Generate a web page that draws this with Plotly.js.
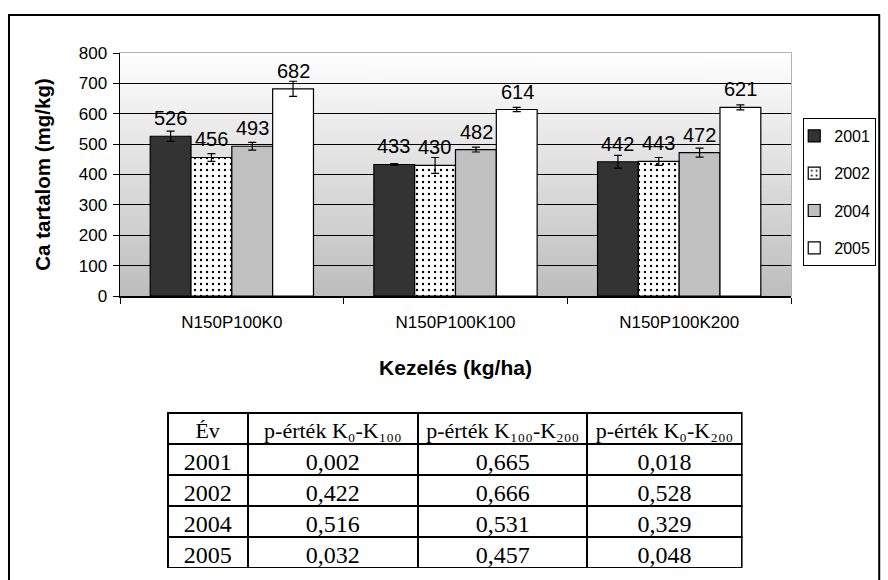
<!DOCTYPE html>
<html>
<head>
<meta charset="utf-8">
<script src="https://cdn.plot.ly/plotly-3.0.1.min.js"></script>
<style>html,body{margin:0;padding:0;background:#fff;}#chart{width:888px;height:580px;}</style>
</head>
<body>
<div id="chart"></div>
<script>
// ---- data ----
const categories = ['N150P100K0', 'N150P100K100', 'N150P100K200'];
const years = ['2001', '2002', '2004', '2005'];
const legendNames = ['2001', '2\u0307002', '2\u0307004', '2\u0307005'];
const v2001 = [526, 433, 442];
const v2002 = [456, 430, 443];
const v2004 = [493, 482, 472];
const v2005 = [682, 614, 621];
const e2001 = [17, 3, 21];
const e2002 = [13, 26, 13];
const e2004 = [13, 8, 15];
const e2005 = [25, 7, 8];
const yTicks = [0, 100, 200, 300, 400, 500, 600, 700, 800];

const NB = '\u00a0';
const tableHeader = ['Év', 'p-érték' + NB + 'K₀-K₁₀₀', 'p-érték' + NB + 'K₁₀₀-K₂₀₀', 'p-érték' + NB + 'K₀-K₂₀₀'];
const tableYears = ['2001', '2002', '2004', '2005'];
const pK0K100 = ['0,002', '0,422', '0,516', '0,032'];
const pK100K200 = ['0,665', '0,666', '0,531', '0,457'];
const pK0K200 = ['0,018', '0,528', '0,329', '0,048'];

// ---- layout constants ----
const W = 888, H = 580;
const M = {l: 120, r: 91, t: 53, b: 12};
const plotW = W - M.l - M.r, plotH = H - M.t - M.b;
const px2x = p => (p - M.l) / plotW;
const px2y = p => (H - M.b - p) / plotH;
const barBottomPx = 296;
const bargap = 0.27;

const sans = 'Arial, "Liberation Sans", sans-serif';
const serif = '"Times New Roman", "Liberation Serif", serif';

const values = [v2001, v2002, v2004, v2005];
const errs = [e2001, e2002, e2004, e2005];
const styles = [
  {color: '#333333'},
  {color: '#ffffff', pattern: {shape: '.', fgcolor: '#000000', bgcolor: '#ffffff', size: 6, solidity: 0.12}},
  {color: '#c0c0c0'},
  {color: '#ffffff'}
];

const traces = years.map((y, i) => ({
  type: 'bar',
  name: legendNames[i],
  legendgroup: 'g' + i,
  x: categories,
  y: values[i],
  marker: Object.assign({line: {color: '#000000', width: 1.2}}, styles[i]),
  error_y: {type: 'data', array: errs[i], visible: true, color: '#000000', thickness: 1.2, width: 4},
  hoverinfo: 'skip'
}));

traces.push({
  type: 'table',
  domain: {x: [px2x(168), px2x(748)], y: [0, px2y(413)]},
  columnwidth: [80, 170, 169, 154],
  header: {
    values: tableHeader,
    align: 'center',
    height: 31,
    line: {color: '#000000', width: 2},
    fill: {color: '#ffffff'},
    font: {family: serif, size: 22, color: '#000000'}
  },
  cells: {
    values: [tableYears, pK0K100, pK100K200, pK0K200],
    align: 'center',
    height: 31,
    line: {color: '#000000', width: 2},
    fill: {color: '#ffffff'},
    font: {family: serif, size: 24, color: '#000000'}
  }
});

// data labels via annotations anchored at bar values
const catW = plotW / categories.length;
const barW = catW * (1 - bargap) / years.length;
const annotations = [];
years.forEach((yr, i) => {
  categories.forEach((c, j) => {
    annotations.push({
      x: c, y: values[i][j], xref: 'x', yref: 'y',
      text: String(values[i][j]),
      showarrow: false, xanchor: 'center', yanchor: 'bottom',
      xshift: (i - 1.5) * barW, yshift: 5,
      font: {family: sans, size: 20, color: '#000000'}
    });
  });
});

// background gradient for plot area
const cv = document.createElement('canvas');
cv.width = 4; cv.height = 256;
const ctx = cv.getContext('2d');
const gr = ctx.createLinearGradient(0, 0, 0, 256);
gr.addColorStop(0, '#ffffff');
gr.addColorStop(1, '#bdbdbd');
ctx.fillStyle = gr; ctx.fillRect(0, 0, 4, 256);
const gradURL = cv.toDataURL('image/png');

const layout = {
  width: W, height: H,
  margin: M,
  paper_bgcolor: '#ffffff',
  plot_bgcolor: 'rgba(0,0,0,0)',
  barmode: 'group',
  bargap: bargap,
  bargroupgap: 0,
  font: {family: sans, color: '#000000'},
  showlegend: true,
  legend: {
    x: px2x(883), xanchor: 'right', y: px2y(118), yanchor: 'top',
    bgcolor: '#ffffff', bordercolor: '#000000', borderwidth: 1,
    font: {family: sans, size: 16, color: '#000000'},
    traceorder: 'grouped', tracegroupgap: 13.5, indentation: -10,
    itemclick: false, itemdoubleclick: false
  },
  xaxis: {
    type: 'category',
    showline: true, linecolor: '#000000', linewidth: 1.5,
    ticks: 'outside', tickson: 'boundaries', ticklen: 6, tickcolor: '#000000', tickwidth: 1,
    ticklabelstandoff: 10,
    tickfont: {family: sans, size: 17, color: '#000000'},
    showgrid: false, zeroline: false,
    title: {text: 'Kezelés (kg/ha)', standoff: 29, font: {family: sans, size: 21, weight: 'bold', color: '#000000'}}
  },
  yaxis: {
    domain: [px2y(barBottomPx), 1],
    range: [0, 800],
    tickvals: yTicks,
    showline: true, linecolor: '#000000', linewidth: 1.5,
    ticks: 'outside', ticklen: 6, tickcolor: '#000000', tickwidth: 1,
    ticklabelstandoff: 2,
    tickfont: {family: sans, size: 17, color: '#000000'},
    showgrid: true, gridcolor: '#000000', gridwidth: 1,
    zeroline: false,
    title: {text: 'Ca tartalom (mg/kg)', standoff: 22, font: {family: sans, size: 20.5, weight: 'bold', color: '#000000'}}
  },
  images: [{
    source: gradURL, xref: 'x domain', yref: 'y domain',
    x: 0, y: 1, sizex: 1, sizey: 1, xanchor: 'left', yanchor: 'top',
    sizing: 'stretch', layer: 'below'
  }],
  shapes: [
    {type: 'rect', xref: 'x domain', yref: 'y domain', x0: 0, x1: 1, y0: 0, y1: 1,
     line: {color: '#9a9a9a', width: 1.5}, layer: 'below'},
    {type: 'rect', xref: 'paper', yref: 'paper', x0: px2x(8), x1: px2x(886), y0: px2y(600), y1: px2y(15),
     line: {color: '#000000', width: 2}, layer: 'above'}
  ],
  annotations: annotations
};

Plotly.newPlot('chart', traces, layout, {displayModeBar: false, staticPlot: true});
</script>
</body>
</html>
